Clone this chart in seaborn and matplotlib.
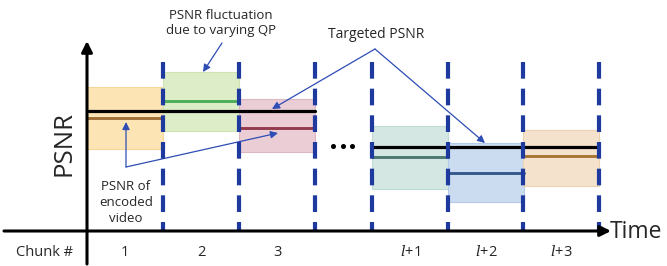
import numpy as np
import pandas as pd
import matplotlib
matplotlib.use("Agg")
import matplotlib.pyplot as plt
import seaborn as sns

# ---------------- data ----------------
chunk_labels = ["1", "2", "3", "$l$+1", "$l$+2", "$l$+3"]
chunk_start = [0.0, 1.0, 2.0, 3.75, 4.75, 5.74]      # time (chunk units)
psnr_high = [14.4, 15.9, 13.2, 10.5, 8.8, 10.1]       # top of fluctuation band
psnr_low = [8.2, 10.0, 7.9, 4.2, 2.9, 4.5]            # bottom of fluctuation band
psnr_mean = [11.3, 13.0, 10.3, 7.4, 5.8, 7.5]         # PSNR of encoded video
target_psnr = [12.0, 8.4]                             # targeted PSNR (two groups)
target_span = [(0.0, 3.0), (3.75, 6.74)]
boundaries = [1.0, 2.0, 3.0, 3.75, 4.75, 5.74, 6.74]

fill_colors = ["#FCE4B4", "#DDEDC8", "#EACDD5", "#D4E7E3", "#CCDCF0", "#F4E2CC"]
line_colors = ["#A0703A", "#4CAF5A", "#943A4E", "#4A7A72", "#345A8C", "#A87436"]
edge_colors = ["#F5D79A", "#CFE4B4", "#DDB8C2", "#C0DAD5", "#B4CBE8", "#EBD2B4"]

# ---------------- figure ----------------
sns.set_theme(style="white")
plt.rcParams["font.family"] = ["Open Sans", "DejaVu Sans"]
plt.rcParams["mathtext.fontset"] = "dejavuserif"

W, H = 667, 266
fig = plt.figure(figsize=(W / 100, H / 100), dpi=100)
ax = fig.add_axes([0, 0, 1, 1])

def X(px):
    return (px - 87) / 76.0

def Y(py):
    return (231 - py) / 10.0

ax.set_xlim(X(0), X(W))
ax.set_ylim(Y(H), Y(0))
ax.axis("off")

# fluctuation bands
heights = [h - l for h, l in zip(psnr_high, psnr_low)]
ax.bar(chunk_start, heights, bottom=psnr_low, width=1.0, align="edge",
       color=fill_colors, edgecolor=edge_colors, linewidth=0.8, zorder=1)

# mean PSNR lines via seaborn
rows = []
for i, (s, m) in enumerate(zip(chunk_start, psnr_mean)):
    rows.append({"t": s, "psnr": m, "chunk": str(i)})
    rows.append({"t": s + 1.0, "psnr": m, "chunk": str(i)})
df = pd.DataFrame(rows)
sns.lineplot(data=df, x="t", y="psnr", hue="chunk", palette=line_colors,
             estimator=None, legend=False, linewidth=2.1, ax=ax, zorder=3)

# targeted PSNR lines
trows = []
for g, (tv, (a, b)) in enumerate(zip(target_psnr, target_span)):
    trows.append({"t": a, "psnr": tv, "grp": str(g)})
    trows.append({"t": b, "psnr": tv, "grp": str(g)})
sns.lineplot(data=pd.DataFrame(trows), x="t", y="psnr", units="grp",
             estimator=None, color="black", linewidth=2.3, ax=ax, zorder=4)
ax.set_xlabel("")
ax.set_ylabel("")

# chunk boundaries (dashed), drawn from the top down
for b in boundaries:
    ax.plot([b, b], [Y(62), Y(231)], color="#1F3A9E", lw=3.0,
            dashes=(4.0, 2.4), zorder=5, solid_capstyle="butt",
            dash_capstyle="butt")

# axes arrows
ax.annotate("", xy=(X(87), Y(41)), xytext=(X(87), Y(264)),
            arrowprops=dict(arrowstyle="-|>", color="black", lw=2.2,
                            mutation_scale=16, shrinkA=0, shrinkB=0), zorder=6)
ax.annotate("", xy=(X(611), Y(231)), xytext=(X(4), Y(231)),
            arrowprops=dict(arrowstyle="-|>", color="black", lw=2.2,
                            mutation_scale=16, shrinkA=0, shrinkB=0), zorder=6)

ax.text(X(610), Y(232), "Time", fontsize=16.5, ha="left", va="center")
ax.text(X(64), Y(143), "PSNR", fontsize=18.5, rotation=90, ha="center", va="center")

# tick-like labels
ax.text(X(45), Y(252), "Chunk #", fontsize=10.5, ha="center", va="center")
for s, lab in zip(chunk_start, chunk_labels):
    ax.text(s + 0.5, Y(252), lab, fontsize=10.5, ha="center", va="center")

# ellipsis
ax.plot([X(333), X(342.5), X(352)], [Y(146)] * 3, "o", color="black", ms=2.6, zorder=6)

# annotations
acol = "#2E4DB5"
aprops = dict(arrowstyle="-|>", color=acol, lw=0.9, mutation_scale=11,
              shrinkA=0, shrinkB=0)

ax.text(X(221), Y(23), "PSNR fluctuation\ndue to varying QP", fontsize=9.5,
        ha="center", va="center", linespacing=1.25)
ax.annotate("", xy=(X(203), Y(72)), xytext=(X(222), Y(43)), arrowprops=aprops)

ax.text(X(376), Y(35), "Targeted PSNR", fontsize=10, ha="center", va="center")
ax.annotate("", xy=(X(272), Y(109)), xytext=(X(375), Y(49)), arrowprops=aprops)
ax.annotate("", xy=(X(485), Y(143)), xytext=(X(375), Y(49)), arrowprops=aprops)

ax.text(X(126), Y(203), "PSNR of\nencoded\nvideo", fontsize=9.5,
        ha="center", va="center", linespacing=1.3)
ax.annotate("", xy=(X(126), Y(122)), xytext=(X(126), Y(167)), arrowprops=aprops)
ax.annotate("", xy=(X(278), Y(133)), xytext=(X(126), Y(167)), arrowprops=aprops)

fig.savefig("out.png", dpi=100)
